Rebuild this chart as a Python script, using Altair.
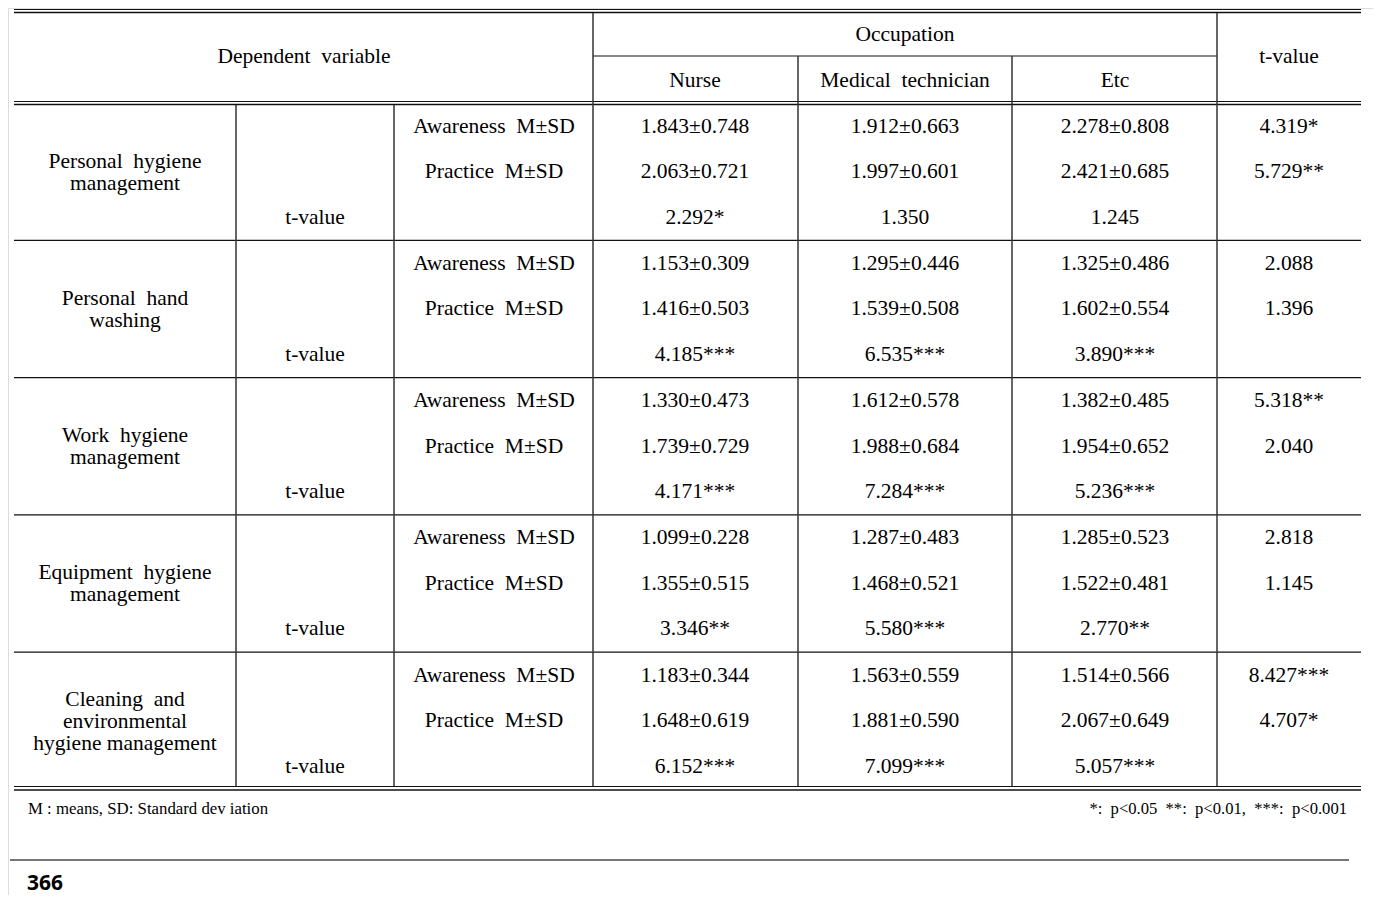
import altair as alt
import pandas as pd

# ---------------- data (text values of the table) ----------------
header_left = "Dependent\u00a0 variable"
header_group = "Occupation"
occupations = ["Nurse", "Medical\u00a0 technician", "Etc"]
header_right = "t-value"

group_labels = [
    "Personal\u00a0 hygiene\nmanagement",
    "Personal\u00a0 hand\nwashing",
    "Work\u00a0 hygiene\nmanagement",
    "Equipment\u00a0 hygiene\nmanagement",
    "Cleaning\u00a0 and\nenvironmental\nhygiene management",
]
row_labels = ["Awareness\u00a0 M±SD", "Practice\u00a0 M±SD"]
tvalue_label = "t-value"

awareness = [
    ["1.843±0.748", "1.912±0.663", "2.278±0.808"],
    ["1.153±0.309", "1.295±0.446", "1.325±0.486"],
    ["1.330±0.473", "1.612±0.578", "1.382±0.485"],
    ["1.099±0.228", "1.287±0.483", "1.285±0.523"],
    ["1.183±0.344", "1.563±0.559", "1.514±0.566"],
]
practice = [
    ["2.063±0.721", "1.997±0.601", "2.421±0.685"],
    ["1.416±0.503", "1.539±0.508", "1.602±0.554"],
    ["1.739±0.729", "1.988±0.684", "1.954±0.652"],
    ["1.355±0.515", "1.468±0.521", "1.522±0.481"],
    ["1.648±0.619", "1.881±0.590", "2.067±0.649"],
]
t_within = [
    ["2.292*", "1.350", "1.245"],
    ["4.185***", "6.535***", "3.890***"],
    ["4.171***", "7.284***", "5.236***"],
    ["3.346**", "5.580***", "2.770**"],
    ["6.152***", "7.099***", "5.057***"],
]
t_between = [
    ["4.319*", "5.729**"],
    ["2.088", "1.396"],
    ["5.318**", "2.040"],
    ["2.818", "1.145"],
    ["8.427***", "4.707*"],
]
note_left = "M : means, SD: Standard dev iation"
note_right = "*:\u00a0 p<0.05\u00a0 **:\u00a0 p<0.01,\u00a0 ***:\u00a0 p<0.001"
page_number = "366"

# ---------------- layout (page pixel grid) ----------------
W, H = 1365, 887
TL, TR = 14, 1361
col_centers = [125, 315, 494, 695, 905, 1115, 1289]
group_top0 = 103.5
group_h = 137.3
row_offsets = [23, 68.5, 114]

cells = []
cells.append((304, 57, header_left))
cells.append((905, 34.5, header_group))
for i, occ in enumerate(occupations):
    cells.append((col_centers[3 + i], 80.5, occ))
cells.append((1289, 57, header_right))

for g in range(len(group_labels)):
    top = group_top0 + g * group_h
    ys = [top + o for o in row_offsets]
    cells.append((col_centers[2], ys[0], row_labels[0]))
    cells.append((col_centers[2], ys[1], row_labels[1]))
    cells.append((col_centers[1], ys[2], tvalue_label))
    for i in range(3):
        cells.append((col_centers[3 + i], ys[0], awareness[g][i]))
        cells.append((col_centers[3 + i], ys[1], practice[g][i]))
        cells.append((col_centers[3 + i], ys[2], t_within[g][i]))
    cells.append((col_centers[6], ys[0], t_between[g][0]))
    cells.append((col_centers[6], ys[1], t_between[g][1]))

cell_df = pd.DataFrame(cells, columns=["x", "y", "text"])

n_lines = [lab.count("\n") + 1 for lab in group_labels]
glab_df = pd.DataFrame({
    "x": [col_centers[0]] * len(group_labels),
    "y": [group_top0 + g * group_h + 69 - (n - 1) * 22 / 2 for g, n in enumerate(n_lines)],
    "text": group_labels,
})

# rules
segs = []
def hline(y, x1=TL, x2=TR, w=1.2, c="#111"):
    segs.append((x1, x2, y, y, w, c))
def vline(x, y1, y2, w=1.5, c="#333"):
    segs.append((x, x, y1, y2, w, c))

hline(9.5); hline(12.5, w=1.6)
hline(56, 593, 1217)
hline(101.5); hline(104.5, w=1.6)
for g in range(1, len(group_labels)):
    hline(group_top0 + g * group_h - 0.5)
hline(786.5); hline(790, w=1.6)
vline(593, 13, 786); vline(1217, 13, 786)
vline(798, 56, 786); vline(1012, 56, 786)
vline(236, 105, 786); vline(394, 105, 786)
hline(860, 10, 1349, w=2, c="#777")
seg_df = pd.DataFrame(segs, columns=["x", "x2", "y", "y2", "w", "c"])

xs = alt.Scale(domain=[8, 8 + W], nice=False, zero=False)
ys_ = alt.Scale(domain=[8, 8 + H], nice=False, zero=False, reverse=True)

rules = alt.Chart(seg_df).mark_rule().encode(
    x=alt.X("x:Q", scale=xs, axis=None),
    x2="x2:Q",
    y=alt.Y("y:Q", scale=ys_, axis=None),
    y2="y2:Q",
    strokeWidth=alt.StrokeWidth("w:Q", scale=None),
    color=alt.Color("c:N", scale=None),
)

serif = "Liberation Serif"
texts = alt.Chart(cell_df).mark_text(
    font=serif, fontSize=21.5, align="center", baseline="middle", color="#000"
).encode(
    x=alt.X("x:Q", scale=xs, axis=None),
    y=alt.Y("y:Q", scale=ys_, axis=None),
    text="text:N",
)

glabs = alt.Chart(glab_df).mark_text(
    font=serif, fontSize=21.5, align="center", baseline="middle", color="#000",
    lineBreak="\n", lineHeight=22,
).encode(
    x=alt.X("x:Q", scale=xs, axis=None),
    y=alt.Y("y:Q", scale=ys_, axis=None),
    text="text:N",
)

notes_l = alt.Chart(pd.DataFrame({"x": [28], "y": [809], "text": [note_left]})).mark_text(
    font=serif, fontSize=16.8, align="left", baseline="middle", color="#000"
).encode(x=alt.X("x:Q", scale=xs, axis=None), y=alt.Y("y:Q", scale=ys_, axis=None), text="text:N")

notes_r = alt.Chart(pd.DataFrame({"x": [1347], "y": [809], "text": [note_right]})).mark_text(
    font=serif, fontSize=16.6, align="right", baseline="middle", color="#000"
).encode(x=alt.X("x:Q", scale=xs, axis=None), y=alt.Y("y:Q", scale=ys_, axis=None), text="text:N")

page = alt.Chart(pd.DataFrame({"x": [27], "y": [884], "text": [page_number]})).mark_text(
    font="Noto Sans", fontSize=21, fontWeight="bold", align="left", baseline="middle", color="#000"
).encode(x=alt.X("x:Q", scale=xs, axis=None), y=alt.Y("y:Q", scale=ys_, axis=None), text="text:N")

chart = alt.layer(rules, texts, glabs, notes_l, notes_r, page).properties(
    width=W, height=H, padding=0, autosize=alt.AutoSizeParams(type="none")
).configure_view(strokeWidth=0, stroke="transparent").configure(background="white")

chart.save("out.html", embed_options={"renderer": "svg", "actions": False})
